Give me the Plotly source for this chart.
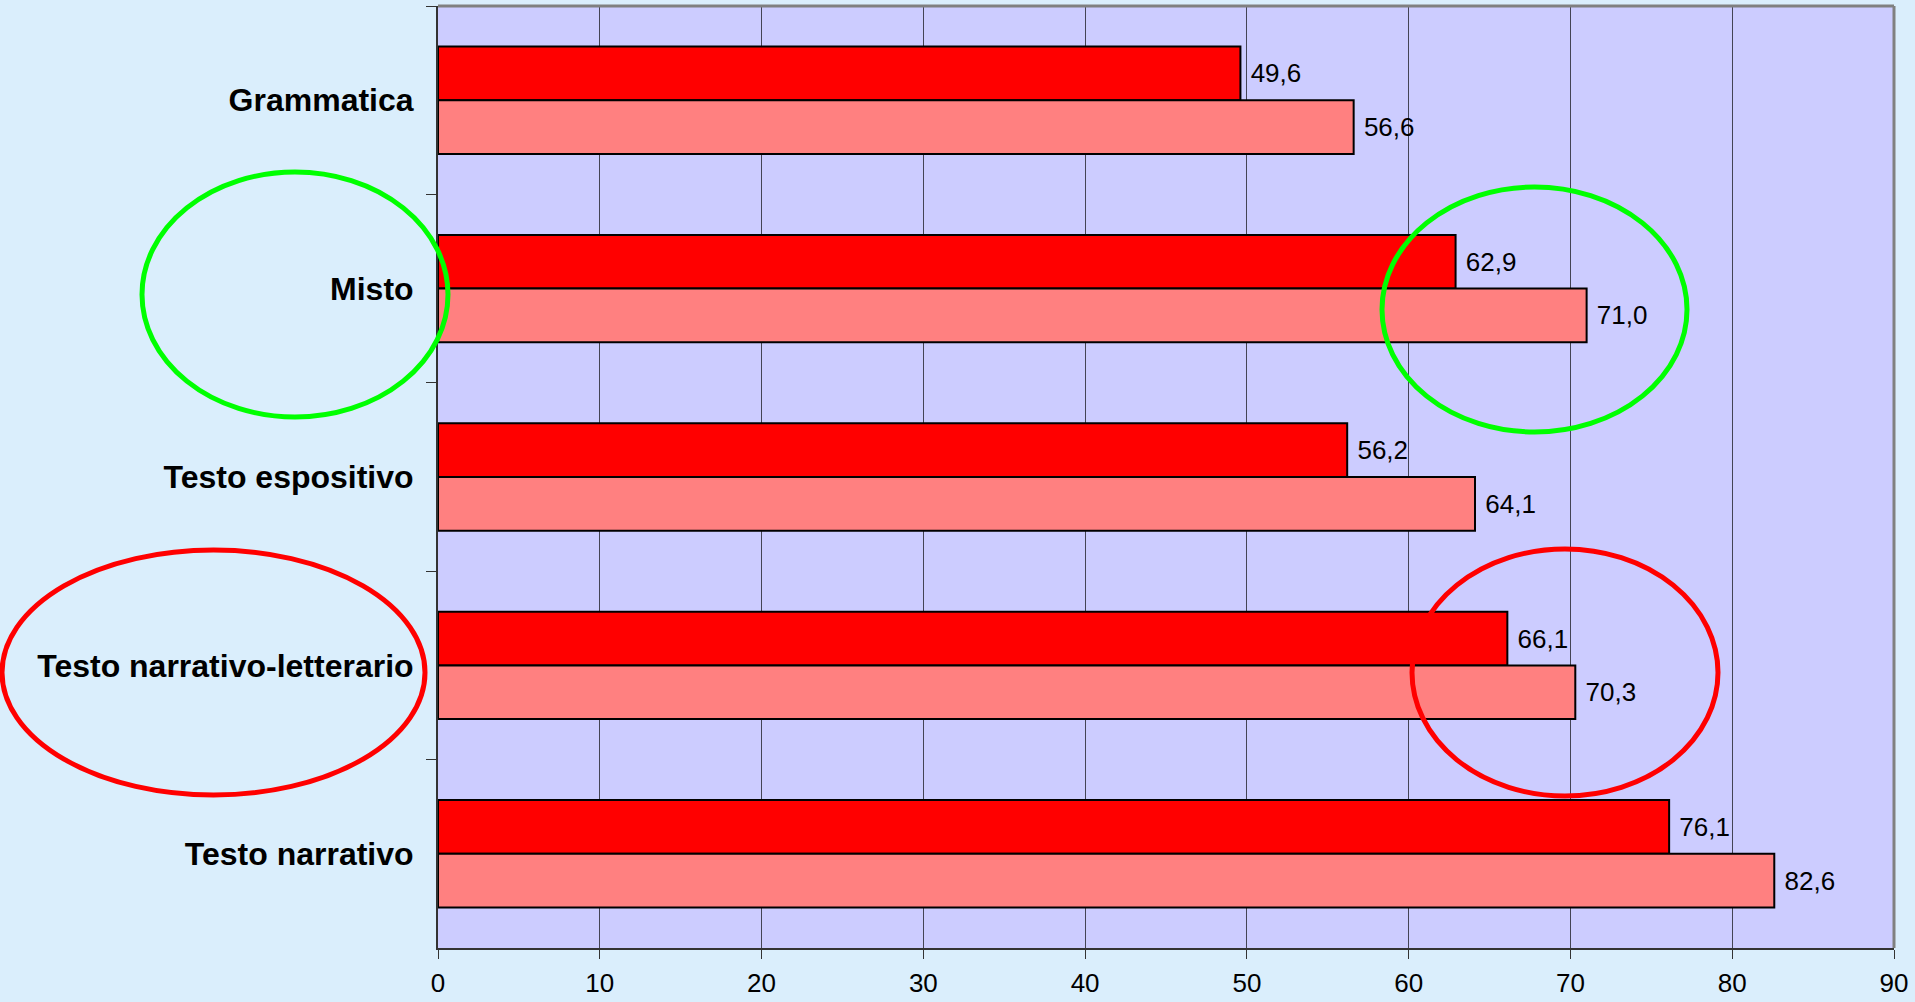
import plotly.graph_objects as go

# categories from top to bottom
categories = ["Grammatica", "Misto", "Testo espositivo",
              "Testo narrativo-letterario", "Testo narrativo"]
serie_a = [49.6, 62.9, 56.2, 66.1, 76.1]   # dark red bars
serie_b = [56.6, 71.0, 64.1, 70.3, 82.6]   # light red bars
x_ticks = [0, 10, 20, 30, 40, 50, 60, 70, 80, 90]

W, H = 1915, 1002
L, R, T, B = 438, 1894, 6, 948


def px_to_paper(x0, x1, y0, y1):
    # pixel box -> paper coords of the plot area
    return dict(x0=(x0 - L) / (R - L), x1=(x1 - L) / (R - L),
                y0=(B - y1) / (B - T), y1=(B - y0) / (B - T))


fig = go.Figure()

for vals, color in [(serie_a, "#FF0000"), (serie_b, "#FF8080")]:
    fig.add_trace(go.Bar(
        y=categories,
        x=vals,
        orientation="h",
        marker=dict(color=color, line=dict(color="black", width=2)),
        texttemplate=" %{x:.1f}",
        textposition="outside",
        textfont=dict(family="Arial, Liberation Sans", size=26, color="black"),
        cliponaxis=False,
        showlegend=False,
    ))

ellipses = [
    ((142, 448, 172, 417), "#00FF00"),
    ((1382, 1687, 187, 432), "#00FF00"),
    ((2, 425, 550, 795), "#FF0000"),
    ((1412, 1718, 549, 796), "#FF0000"),
]
for (x0, x1, y0, y1), col in ellipses:
    fig.add_shape(type="circle", xref="paper", yref="paper",
                  line=dict(color=col, width=5), layer="above",
                  **px_to_paper(x0, x1, y0, y1))

# grey frame on top and right
fig.add_shape(type="line", xref="paper", yref="paper", x0=0, x1=1, y0=1, y1=1,
              line=dict(color="#808080", width=3), layer="above")
fig.add_shape(type="line", xref="paper", yref="paper", x0=1, x1=1, y0=0, y1=1,
              line=dict(color="#808080", width=3), layer="above")

fig.update_layout(
    width=W, height=H,
    margin=dict(l=L, r=W - R, t=T, b=H - B),
    paper_bgcolor="#DAEEFC",
    plot_bgcolor="#CCCCFF",
    barmode="group",
    bargap=0.43,
    bargroupgap=0,
    separators=",.",
    font=dict(family="Arial, Liberation Sans", color="black"),
    xaxis=dict(
        range=[0, 90], tickvals=x_ticks, ticks="outside", ticklen=9,
        tickcolor="#333333", showgrid=True, gridcolor="#444455", gridwidth=1,
        showline=True, linecolor="#333333", linewidth=2, zeroline=False,
        tickfont=dict(size=26), fixedrange=True, ticklabelstandoff=2,
        automargin=False,
    ),
    yaxis=dict(
        categoryorder="array", categoryarray=categories, autorange="reversed",
        tickson="boundaries", ticks="outside", ticklen=10, tickcolor="#333333",
        showgrid=False, showline=True, linecolor="#333333", linewidth=2,
        tickfont=dict(size=32, family="Arial, Liberation Sans", weight="bold"),
        ticklabelstandoff=16, automargin=False,
    ),
)

# page has no body margin in the reference screenshot
fig.write_html("out.html", config={"displayModeBar": False},
               post_script="document.body.style.margin='0';")
